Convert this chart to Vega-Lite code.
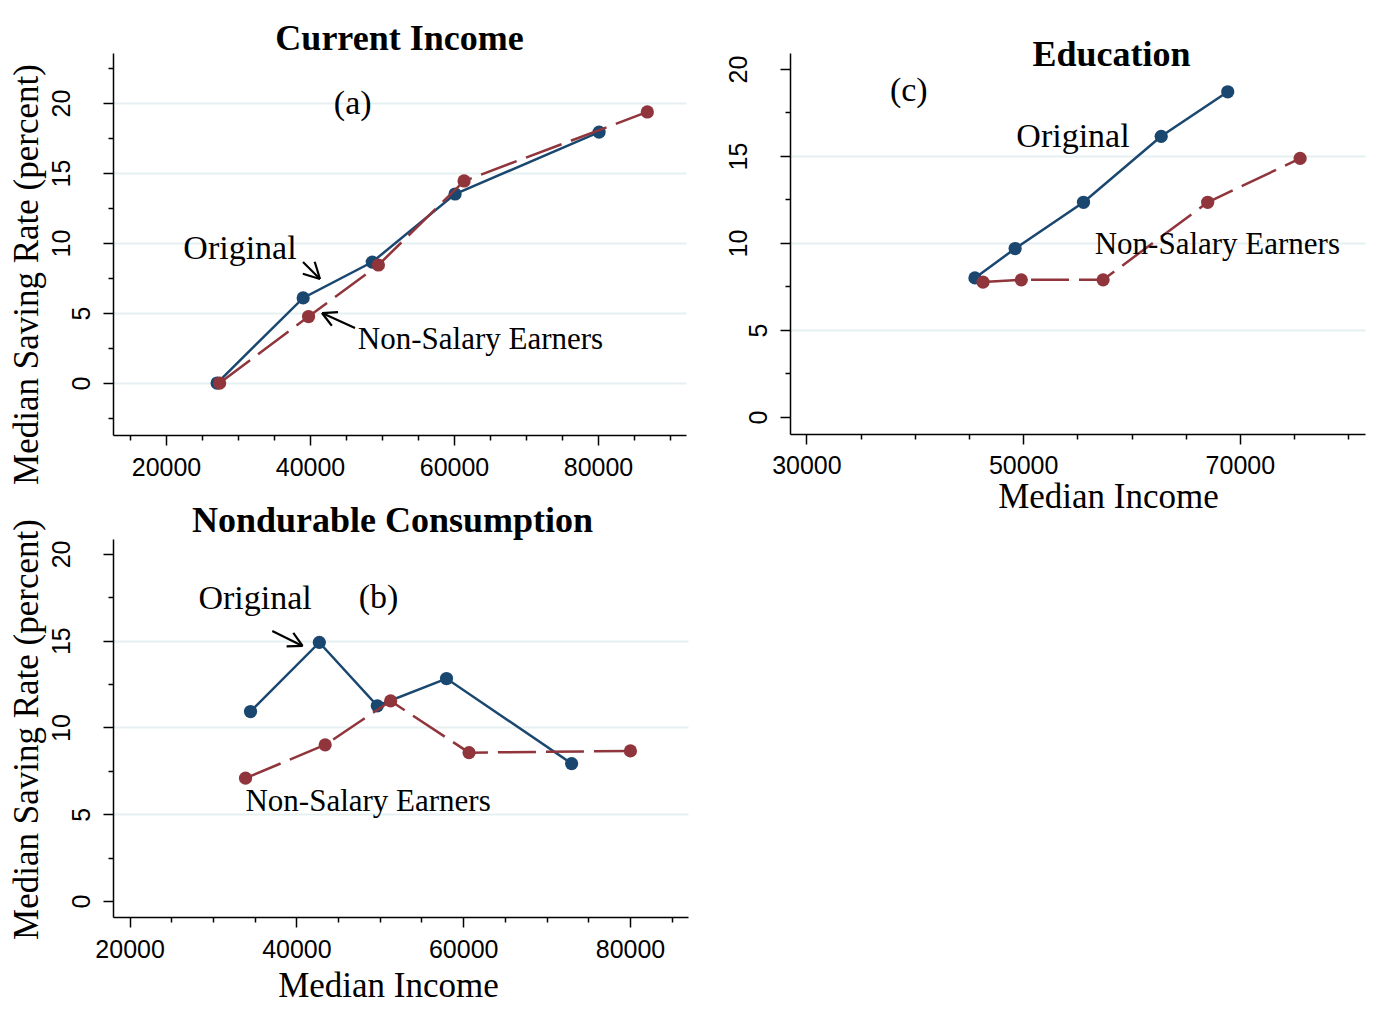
{
  "$schema": "https://vega.github.io/schema/vega-lite/v6.json",
  "background": "white",
  "padding": {"left": 8, "top": 21, "right": 5, "bottom": 5},
  "bounds": "flush",
  "columns": 2,
  "spacing": {"row": 104, "column": 102},
  "config": {
    "view": {"stroke": null},
    "axis": {
      "domainColor": "black", "domainWidth": 1.5,
      "tickColor": "black", "tickWidth": 1.5,
      "labelFont": "Liberation Sans", "labelFontSize": 25, "labelColor": "black",
      "titleFont": "Liberation Serif", "titleFontSize": 35, "titleFontWeight": "normal", "titleColor": "black",
      "gridColor": "#e6eff1", "gridWidth": 2,
      "labelOverlap": false, "labelFlush": false
    }
  },
  "datasets": {
    "series": [
      {"panel": "a", "series": "Original", "income": 27100, "rate": 0.0},
      {"panel": "a", "series": "Original", "income": 39050, "rate": 6.08},
      {"panel": "a", "series": "Original", "income": 48650, "rate": 8.64},
      {"panel": "a", "series": "Original", "income": 60150, "rate": 13.5},
      {"panel": "a", "series": "Original", "income": 80150, "rate": 17.92},
      {"panel": "a", "series": "Non-Salary Earners", "income": 27450, "rate": 0.0},
      {"panel": "a", "series": "Non-Salary Earners", "income": 39800, "rate": 4.75},
      {"panel": "a", "series": "Non-Salary Earners", "income": 49500, "rate": 8.43},
      {"panel": "a", "series": "Non-Salary Earners", "income": 61400, "rate": 14.43},
      {"panel": "a", "series": "Non-Salary Earners", "income": 86850, "rate": 19.36},
      {"panel": "b", "series": "Original", "income": 34500, "rate": 10.92},
      {"panel": "b", "series": "Original", "income": 42750, "rate": 14.9},
      {"panel": "b", "series": "Original", "income": 49700, "rate": 11.25},
      {"panel": "b", "series": "Original", "income": 58000, "rate": 12.82},
      {"panel": "b", "series": "Original", "income": 73000, "rate": 7.92},
      {"panel": "b", "series": "Non-Salary Earners", "income": 33900, "rate": 7.08},
      {"panel": "b", "series": "Non-Salary Earners", "income": 43450, "rate": 9.0},
      {"panel": "b", "series": "Non-Salary Earners", "income": 51300, "rate": 11.53},
      {"panel": "b", "series": "Non-Salary Earners", "income": 60700, "rate": 8.55},
      {"panel": "b", "series": "Non-Salary Earners", "income": 80050, "rate": 8.65},
      {"panel": "c", "series": "Original", "income": 45550, "rate": 7.99},
      {"panel": "c", "series": "Original", "income": 49260, "rate": 9.68},
      {"panel": "c", "series": "Original", "income": 55570, "rate": 12.34},
      {"panel": "c", "series": "Original", "income": 62740, "rate": 16.13},
      {"panel": "c", "series": "Original", "income": 68880, "rate": 18.69},
      {"panel": "c", "series": "Non-Salary Earners", "income": 46300, "rate": 7.75},
      {"panel": "c", "series": "Non-Salary Earners", "income": 49830, "rate": 7.88},
      {"panel": "c", "series": "Non-Salary Earners", "income": 57380, "rate": 7.88},
      {"panel": "c", "series": "Non-Salary Earners", "income": 67030, "rate": 12.34},
      {"panel": "c", "series": "Non-Salary Earners", "income": 75560, "rate": 14.86}
    ],
    "notes": [
      {"panel": "a", "label": "(a)", "income": 45931, "rate": 19.21},
      {"panel": "a", "label": "Original", "income": 30278, "rate": 8.84},
      {"panel": "a", "label": "Non-Salary Earners", "income": 63681, "rate": 2.41},
      {"panel": "b", "label": "(b)", "income": 49855, "rate": 16.9},
      {"panel": "b", "label": "Original", "income": 35047, "rate": 16.81},
      {"panel": "b", "label": "Non-Salary Earners", "income": 48596, "rate": 5.19},
      {"panel": "c", "label": "(c)", "income": 39450, "rate": 18.17},
      {"panel": "c", "label": "Original", "income": 54600, "rate": 15.53},
      {"panel": "c", "label": "Non-Salary Earners", "income": 67921, "rate": 9.37}
    ],
    "arrows": [
      {"panel": "a", "income": 39028, "rate": 8.64, "income2": 41389, "rate2": 7.43},
      {"panel": "a", "income": 39000, "rate": 7.81, "income2": 41389, "rate2": 7.43},
      {"panel": "a", "income": 40653, "rate": 8.66, "income2": 41389, "rate2": 7.43},
      {"panel": "a", "income": 46250, "rate": 3.93, "income2": 41667, "rate2": 5.0},
      {"panel": "a", "income": 43889, "rate": 5.07, "income2": 41667, "rate2": 5.0},
      {"panel": "a", "income": 43028, "rate": 4.09, "income2": 41667, "rate2": 5.0},
      {"panel": "b", "income": 37110, "rate": 15.56, "income2": 40743, "rate2": 14.7},
      {"panel": "b", "income": 38824, "rate": 14.67, "income2": 40743, "rate2": 14.7},
      {"panel": "b", "income": 39628, "rate": 15.45, "income2": 40743, "rate2": 14.7}
    ]
  },
  "concat": [
    {
      "width": 573, "height": 382,
      "title": {"text": "Current Income", "font": "Liberation Serif", "fontSize": 36, "fontWeight": "bold", "color": "black", "baseline": "alphabetic", "offset": -33, "frame": "group", "anchor": "middle"},
      "encoding": {
        "x": {"field": "income", "type": "quantitative",
          "scale": {"domain": [12639, 92222], "nice": false, "zero": false},
          "axis": {"title": null, "values": [15000,20000,25000,30000,35000,40000,45000,50000,55000,60000,65000,70000,75000,80000,85000,90000],
            "format": "d", "labelExpr": "datum.value % 20000 === 0 ? datum.label : ''",
            "tickSize": {"condition": {"test": "datum.value % 20000 === 0", "value": 10}, "value": 5},
            "labelPadding": 10, "labelBaseline": "top", "grid": false}},
        "y": {"field": "rate", "type": "quantitative",
          "scale": {"domain": [-3.71, 23.57], "nice": false, "zero": false},
          "axis": {"title": "Median Saving Rate (percent)", "titleAngle": 270, "titleX": -76, "titleY": 221, "titleBaseline": "alphabetic", "titleAlign": "center",
            "values": [-2.5,0,2.5,5,7.5,10,12.5,15,17.5,20,22.5],
            "labelExpr": "datum.value % 5 === 0 ? datum.label : ''",
            "tickSize": {"condition": {"test": "datum.value % 5 === 0", "value": 10}, "value": 5},
            "labelAngle": 270, "labelAlign": "center", "labelPadding": 34,
            "labelBaseline": {"condition": {"test": "abs(datum.value) >= 10", "value": "alphabetic"}, "value": "top"},
            "grid": true,
            "gridOpacity": {"condition": {"test": "datum.value % 5 === 0 && datum.value >= 0 && datum.value <= 20", "value": 1}, "value": 0}}}
      },
      "layer": [
        {"data": {"name": "series"}, "transform": [{"filter": "datum.panel === 'a' && datum.series === 'Original'"}], "mark": {"type": "line", "color": "#1a476f", "strokeWidth": 2.5}},
        {"data": {"name": "series"}, "transform": [{"filter": "datum.panel === 'a' && datum.series === 'Original'"}], "mark": {"type": "circle", "color": "#1a476f", "size": 175, "opacity": 1}},
        {"data": {"name": "series"}, "transform": [{"filter": "datum.panel === 'a' && datum.series === 'Non-Salary Earners'"}], "mark": {"type": "line", "color": "#90353b", "strokeWidth": 2.5, "strokeDash": [38, 10]}},
        {"data": {"name": "series"}, "transform": [{"filter": "datum.panel === 'a' && datum.series === 'Non-Salary Earners'"}], "mark": {"type": "circle", "color": "#90353b", "size": 175, "opacity": 1}},
        {"data": {"name": "arrows"}, "transform": [{"filter": "datum.panel === 'a'"}], "mark": {"type": "rule", "color": "black", "strokeWidth": 2.2},
          "encoding": {"x2": {"field": "income2"}, "y2": {"field": "rate2"}}},
        {"data": {"name": "notes"}, "transform": [{"filter": "datum.panel === 'a' && datum.label !== 'Non-Salary Earners'"}],
          "mark": {"type": "text", "font": "Liberation Serif", "fontSize": 34, "align": "center", "baseline": "alphabetic", "color": "black"},
          "encoding": {"text": {"field": "label"}}},
        {"data": {"name": "notes"}, "transform": [{"filter": "datum.panel === 'a' && datum.label === 'Non-Salary Earners'"}],
          "mark": {"type": "text", "font": "Liberation Serif", "fontSize": 31, "align": "center", "baseline": "alphabetic", "color": "black"},
          "encoding": {"text": {"field": "label"}}}
      ]
    },
    {
      "width": 575, "height": 381,
      "title": {"text": "Education", "font": "Liberation Serif", "fontSize": 36, "fontWeight": "bold", "color": "black", "baseline": "alphabetic", "offset": -49, "dx": 34, "frame": "group", "anchor": "middle"},
      "encoding": {
        "x": {"field": "income", "type": "quantitative",
          "scale": {"domain": [28485, 81547], "nice": false, "zero": false},
          "axis": {"title": "Median Income", "titleX": 318, "titleY": 73, "titleBaseline": "alphabetic", "titleAlign": "center",
            "values": [30000,35000,40000,45000,50000,55000,60000,65000,70000,75000,80000],
            "format": "d", "labelExpr": "datum.value % 20000 === 10000 ? datum.label : ''",
            "tickSize": {"condition": {"test": "datum.value % 20000 === 10000", "value": 10}, "value": 5},
            "labelPadding": 9, "labelBaseline": "top", "grid": false}},
        "y": {"field": "rate", "type": "quantitative",
          "scale": {"domain": [-0.98, 20.92], "nice": false, "zero": false},
          "axis": {"title": null,
            "values": [0,2.5,5,7.5,10,12.5,15,17.5,20],
            "labelExpr": "datum.value % 5 === 0 ? datum.label : ''",
            "tickSize": {"condition": {"test": "datum.value % 5 === 0", "value": 10}, "value": 5},
            "labelAngle": 270, "labelAlign": "center", "labelPadding": 34,
            "labelBaseline": {"condition": {"test": "abs(datum.value) >= 10", "value": "alphabetic"}, "value": "top"},
            "grid": true,
            "gridOpacity": {"condition": {"test": "datum.value % 5 === 0 && datum.value >= 5 && datum.value <= 15", "value": 1}, "value": 0}}}
      },
      "layer": [
        {"data": {"name": "series"}, "transform": [{"filter": "datum.panel === 'c' && datum.series === 'Original'"}], "mark": {"type": "line", "color": "#1a476f", "strokeWidth": 2.5}},
        {"data": {"name": "series"}, "transform": [{"filter": "datum.panel === 'c' && datum.series === 'Original'"}], "mark": {"type": "circle", "color": "#1a476f", "size": 175, "opacity": 1}},
        {"data": {"name": "series"}, "transform": [{"filter": "datum.panel === 'c' && datum.series === 'Non-Salary Earners'"}], "mark": {"type": "line", "color": "#90353b", "strokeWidth": 2.5, "strokeDash": [38, 10]}},
        {"data": {"name": "series"}, "transform": [{"filter": "datum.panel === 'c' && datum.series === 'Non-Salary Earners'"}], "mark": {"type": "circle", "color": "#90353b", "size": 175, "opacity": 1}},
        {"data": {"name": "notes"}, "transform": [{"filter": "datum.panel === 'c' && datum.label !== 'Non-Salary Earners'"}],
          "mark": {"type": "text", "font": "Liberation Serif", "fontSize": 34, "align": "center", "baseline": "alphabetic", "color": "black"},
          "encoding": {"text": {"field": "label"}}},
        {"data": {"name": "notes"}, "transform": [{"filter": "datum.panel === 'c' && datum.label === 'Non-Salary Earners'"}],
          "mark": {"type": "text", "font": "Liberation Serif", "fontSize": 31, "align": "center", "baseline": "alphabetic", "color": "black"},
          "encoding": {"text": {"field": "label"}}}
      ]
    },
    {
      "width": 575, "height": 378,
      "title": {"text": "Nondurable Consumption", "font": "Liberation Serif", "fontSize": 36, "fontWeight": "bold", "color": "black", "baseline": "alphabetic", "offset": -49, "dx": -8, "frame": "group", "anchor": "middle"},
      "encoding": {
        "x": {"field": "income", "type": "quantitative",
          "scale": {"domain": [18010, 86955], "nice": false, "zero": false},
          "axis": {"title": "Median Income", "titleX": 275, "titleY": 79, "titleBaseline": "alphabetic", "titleAlign": "center",
            "values": [20000,25000,30000,35000,40000,45000,50000,55000,60000,65000,70000,75000,80000,85000],
            "format": "d", "labelExpr": "datum.value % 20000 === 0 ? datum.label : ''",
            "tickSize": {"condition": {"test": "datum.value % 20000 === 0", "value": 10}, "value": 5},
            "labelPadding": 10, "labelBaseline": "top", "grid": false}},
        "y": {"field": "rate", "type": "quantitative",
          "scale": {"domain": [-0.92, 20.86], "nice": false, "zero": false},
          "axis": {"title": "Median Saving Rate (percent)", "titleAngle": 270, "titleX": -76, "titleY": 190, "titleBaseline": "alphabetic", "titleAlign": "center",
            "values": [0,2.5,5,7.5,10,12.5,15,17.5,20],
            "labelExpr": "datum.value % 5 === 0 ? datum.label : ''",
            "tickSize": {"condition": {"test": "datum.value % 5 === 0", "value": 10}, "value": 5},
            "labelAngle": 270, "labelAlign": "center", "labelPadding": 34,
            "labelBaseline": {"condition": {"test": "abs(datum.value) >= 10", "value": "alphabetic"}, "value": "top"},
            "grid": true,
            "gridOpacity": {"condition": {"test": "datum.value % 5 === 0 && datum.value >= 5 && datum.value <= 15", "value": 1}, "value": 0}}}
      },
      "layer": [
        {"data": {"name": "series"}, "transform": [{"filter": "datum.panel === 'b' && datum.series === 'Original'"}], "mark": {"type": "line", "color": "#1a476f", "strokeWidth": 2.5}},
        {"data": {"name": "series"}, "transform": [{"filter": "datum.panel === 'b' && datum.series === 'Original'"}], "mark": {"type": "circle", "color": "#1a476f", "size": 175, "opacity": 1}},
        {"data": {"name": "series"}, "transform": [{"filter": "datum.panel === 'b' && datum.series === 'Non-Salary Earners'"}], "mark": {"type": "line", "color": "#90353b", "strokeWidth": 2.5, "strokeDash": [38, 10]}},
        {"data": {"name": "series"}, "transform": [{"filter": "datum.panel === 'b' && datum.series === 'Non-Salary Earners'"}], "mark": {"type": "circle", "color": "#90353b", "size": 175, "opacity": 1}},
        {"data": {"name": "arrows"}, "transform": [{"filter": "datum.panel === 'b'"}], "mark": {"type": "rule", "color": "black", "strokeWidth": 2.2},
          "encoding": {"x2": {"field": "income2"}, "y2": {"field": "rate2"}}},
        {"data": {"name": "notes"}, "transform": [{"filter": "datum.panel === 'b' && datum.label !== 'Non-Salary Earners'"}],
          "mark": {"type": "text", "font": "Liberation Serif", "fontSize": 34, "align": "center", "baseline": "alphabetic", "color": "black"},
          "encoding": {"text": {"field": "label"}}},
        {"data": {"name": "notes"}, "transform": [{"filter": "datum.panel === 'b' && datum.label === 'Non-Salary Earners'"}],
          "mark": {"type": "text", "font": "Liberation Serif", "fontSize": 31, "align": "center", "baseline": "alphabetic", "color": "black"},
          "encoding": {"text": {"field": "label"}}}
      ]
    }
  ]
}
